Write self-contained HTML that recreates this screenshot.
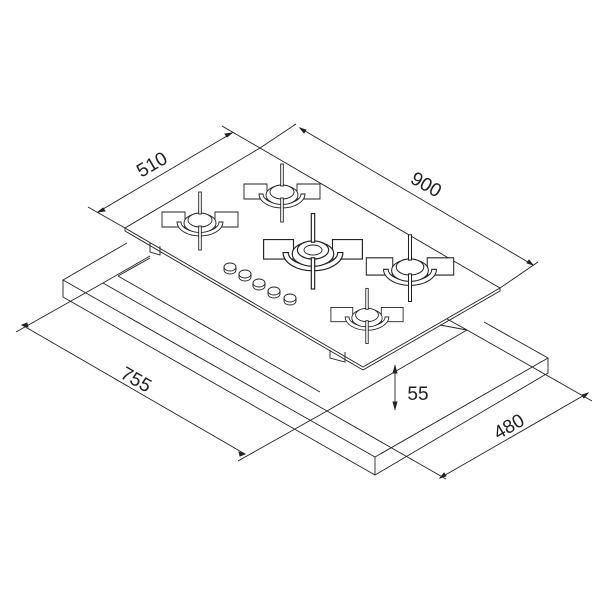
<!DOCTYPE html>
<html><head><style>html,body{margin:0;padding:0;background:#fff}svg{display:block}</style></head>
<body>
<svg width="600" height="600" viewBox="0 0 600 600" xmlns="http://www.w3.org/2000/svg">
<defs>
<g id="b" fill="#fff" stroke="#222" stroke-width="0.9">
  <path d="M-38,-8 L-15,-8 L-15,7 L-38,7 Z"/>
  <path d="M15,-8 L38,-8 L38,7 L15,7 Z"/>
  <path d="M-23,2 A23,14 0 0 0 23,2 L19,2 A19,10 0 0 1 -19,2 Z"/>
  <ellipse cx="0" cy="3" rx="16" ry="9.5"/>
  <ellipse cx="0" cy="0" rx="12" ry="7"/>
  <rect x="-1.3" y="-28" width="2.6" height="22"/>
  <rect x="-1.3" y="6" width="2.6" height="24"/>
</g>
</defs>
<g fill="none" stroke="#222" stroke-width="0.9">
  <!-- frame -->
  <path d="M127,243 L63,280 L375,457 L548,358 L484,322" fill="#fff"/>
  <path d="M63,280 L63,297 L375,475 L548,373 L548,358"/>
  <path d="M375,457 L375,475"/>
  <!-- inner opening -->
  <path d="M103,283 L327,411 L467,330"/>
  <path d="M103,283 L150,256"/>
  <path d="M118,276 L150,258 M118,276 L320,392"/>
  <path d="M440,325 L467,330 L420,304"/>
  <!-- glass -->
  <path d="M125,228 L260,148 L500,288 L363,367 Z" fill="#fff"/>
  <path d="M125,228 L125,231 L363,370 L500,291 L500,288"/>
  <path d="M150,243 L150,252 L160,255 L160,246 M330,350 L330,358 L345,362 L345,352"/>
  <!-- dims 510 -->
  <path d="M125,228 L88,207 M260,148 L222,126 M98,212 L232,133"/>
  <path d="M98,212 l7,-1 l-2,-3 Z M232,133 l-7,1 l2,3 Z" fill="#222"/>
  <!-- 900 -->
  <path d="M260,148 L296,124 M500,288 L538,262 M300,128 L533,265"/>
  <path d="M300,128 l4,5 l2,-3 Z M533,265 l-4,-5 l-2,3 Z" fill="#222"/>
  <!-- 755 -->
  <path d="M103,283 L16,332 M327,411 L238,461 M22,325 L245,454"/>
  <path d="M22,325 l6,2 l-1,-4 Z M245,454 l-6,-2 l1,4 Z" fill="#222"/>
  <!-- 480 -->
  <path d="M327,411 L446,479 M467,330 L592,401 M440,478 L588,393"/>
  <path d="M440,478 l4,-5 l2,3 Z M588,393 l-4,5 l-2,-3 Z" fill="#222"/>
  <!-- 55 -->
  <path d="M395,365 L395,410"/>
  <path d="M395,366 l-2,7 l4,0 Z M395,409 l-2,-7 l4,0 Z" fill="#222"/>
</g>
<use href="#b" transform="translate(200,220)"/>
<use href="#b" transform="translate(282,192)"/>
<use href="#b" transform="translate(313,250) scale(1.3)"/>
<ellipse cx="313" cy="250" rx="9" ry="5" fill="none" stroke="#222" stroke-width="0.9"/>
<use href="#b" transform="translate(410,267) scale(1.15)"/>
<use href="#b" transform="translate(367,315) scale(0.95)"/>
<g fill="#fff" stroke="#222" stroke-width="0.9">
  <path d="M224,267 v3 a6,4 0 0 0 12,0 v-3"/><ellipse cx="230" cy="267" rx="6" ry="4"/>
  <path d="M239,274 v3 a6,4 0 0 0 12,0 v-3"/><ellipse cx="245" cy="274" rx="6" ry="4"/>
  <path d="M253,283 v3 a6,4 0 0 0 12,0 v-3"/><ellipse cx="259" cy="283" rx="6" ry="4"/>
  <path d="M268,291 v3 a6,4 0 0 0 12,0 v-3"/><ellipse cx="274" cy="291" rx="6" ry="4"/>
  <path d="M284,298 v3 a6,4 0 0 0 12,0 v-3"/><ellipse cx="290" cy="298" rx="6" ry="4"/>
</g>
<g font-family="Liberation Sans, sans-serif" font-size="19" fill="#222" text-anchor="middle">
  <text transform="translate(155,170) rotate(-30)">510</text>
  <text transform="translate(423,190) rotate(30)">900</text>
  <text transform="translate(133,385) rotate(30)">755</text>
  <text transform="translate(512,432) rotate(-30)">480</text>
  <text x="418" y="400">55</text>
</g>
</svg>
</body></html>
